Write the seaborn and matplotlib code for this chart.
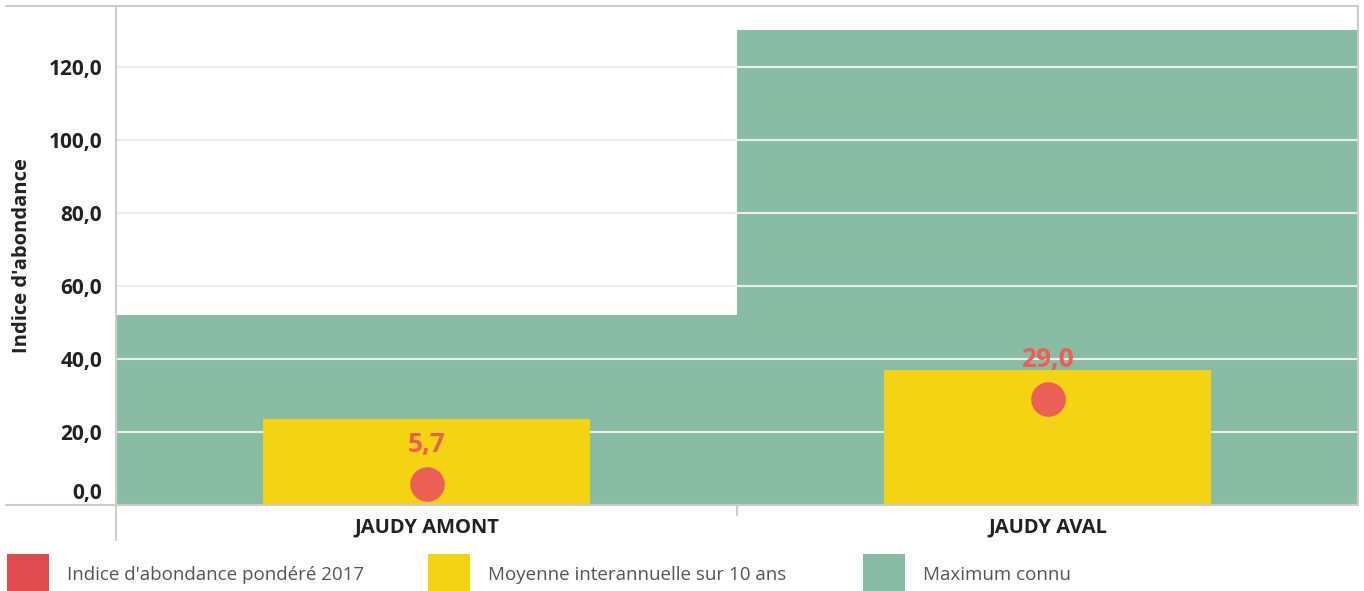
import matplotlib
matplotlib.use('Agg')

import matplotlib.pyplot as plt
import matplotlib.transforms as mtransforms
from matplotlib.lines import Line2D
from matplotlib.patches import Rectangle
import seaborn as sns
import pandas as pd

# === Data ===
stations = ["JAUDY AMONT", "JAUDY AVAL"]
indice_2017 = [5.7, 29.0]
moyenne_10ans = [23.6, 37.0]
maximum_connu = [52.1, 130.2]
series_names = ["Indice d'abondance pondéré 2017",
                "Moyenne interannuelle sur 10 ans",
                "Maximum connu"]
y_ticks = [0, 20, 40, 60, 80, 100, 120]

RED_LEG = "#e04b4f"
RED_DOT = "#ec5f55"
YELLOW = "#f4d313"
GREEN = "#89bca5"
FRAME = "#cccccc"

df = pd.DataFrame({"station": stations, "indice": indice_2017,
                   "moyenne": moyenne_10ans, "maximum": maximum_connu})

sns.set_style("white")
plt.rcParams['font.family'] = ['Open Sans', 'DejaVu Sans']

fig = plt.figure(figsize=(13.64, 5.91), dpi=100)
ax = fig.add_axes([116 / 1364, 86 / 591, 1242 / 1364, 499 / 591])

# === Bars ===
sns.barplot(data=df, x="station", y="maximum", color=GREEN, width=1.0,
            saturation=1, ax=ax)
n_green = len(ax.patches)
sns.barplot(data=df, x="station", y="moyenne", color=YELLOW, width=0.525,
            saturation=1, ax=ax)
for i, p in enumerate(ax.patches):
    p.set_zorder(0.3 if i < n_green else 1)
    p.set_linewidth(0)

# === Points ===
sns.scatterplot(data=df, x="station", y="indice", color=RED_DOT, s=620,
                linewidth=0, zorder=3, ax=ax, legend=False)
for i, v in enumerate(indice_2017):
    ax.annotate(f"{v:.1f}".replace(".", ","), (i, v), xytext=(0, 19),
                textcoords="offset points", ha="center", va="bottom",
                color=RED_DOT, fontsize=19, fontweight="bold", zorder=4)

# === Axes styling ===
ax.set_xlim(-0.5, 1.5)
ax.set_ylim(0, 136.7)
ax.set_yticks(y_ticks)
ax.set_yticklabels([f"{t:.1f}".replace(".", ",") for t in y_ticks],
                   fontsize=15, fontweight="bold", color="#222222")
ax.set_axisbelow(True)
ax.yaxis.grid(True, color="#ececec", linewidth=1.5)
ax.xaxis.grid(False)
ax.tick_params(axis="y", length=8, width=1.5, color="#eeeeee", pad=2)
ax.tick_params(axis="x", length=0, pad=9)
for lab in ax.get_xticklabels():
    lab.set_fontsize(14.5)
    lab.set_fontweight("bold")
    lab.set_color("#222222")
ax.set_xlabel("")
ax.set_ylabel("Indice d'abondance", fontsize=14.5, fontweight="bold",
              color="#222222", labelpad=12)

# shift the "0,0" label up a bit
lab0 = ax.get_yticklabels()[0]
lab0.set_transform(lab0.get_transform() +
                   mtransforms.ScaledTranslation(0, 14 / 100, fig.dpi_scale_trans))

for s in ax.spines.values():
    s.set_visible(False)

# === Frame lines (figure pixels) ===
W, H = 1364, 591
def fline(x0, y0, x1, y1):
    fig.add_artist(Line2D([x0 / W, x1 / W], [1 - y0 / H, 1 - y1 / H],
                          color=FRAME, linewidth=1.5))
fline(6, 6, 1358, 6)
fline(6, 505, 1358, 505)
fline(116, 6, 116, 540)
fline(1358, 6, 1358, 505)
fline(737, 505, 737, 515)

# === Legend ===
leg_colors = [RED_LEG, YELLOW, GREEN]
leg_x = [7, 428, 863]
for name, col, x in zip(series_names, leg_colors, leg_x):
    fig.add_artist(Rectangle((x / W, 1 - 591 / H), 42 / W, 37 / H,
                             facecolor=col, edgecolor="none",
                             transform=fig.transFigure))
    fig.text((x + 60) / W, 1 - 575 / H, name, fontsize=13.5,
             color="#555555", va="center", ha="left")

fig.savefig("out.png", dpi=100)
